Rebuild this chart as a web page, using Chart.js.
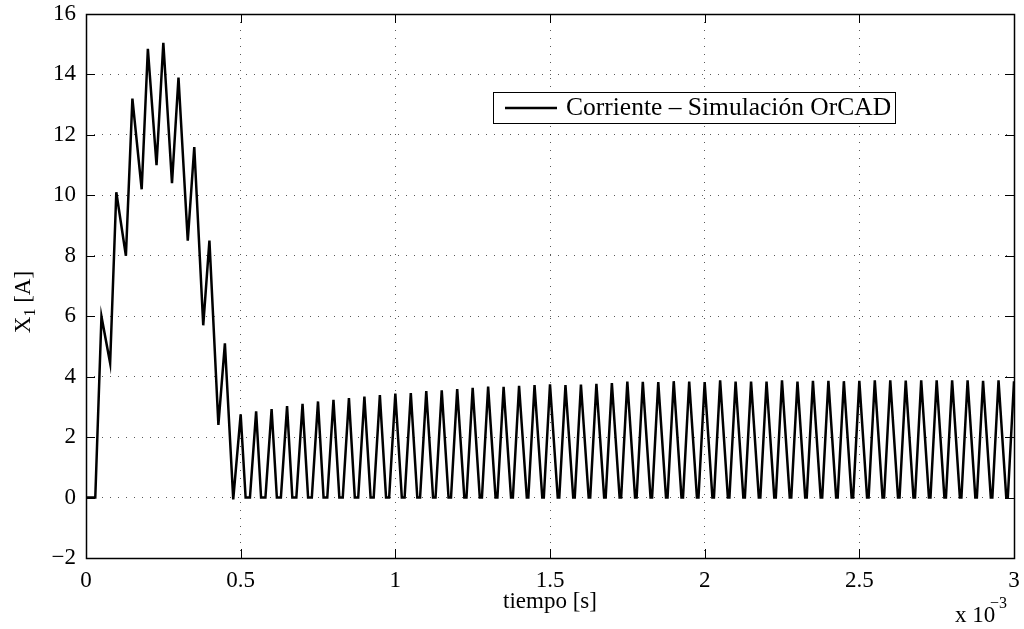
<!DOCTYPE html>
<html>
<head>
<meta charset="utf-8">
<script src="https://cdn.jsdelivr.net/npm/chart.js@4.4.1/dist/chart.umd.min.js"></script>
<style>
  html, body { margin: 0; padding: 0; background: #fff; }
  #wrap { width: 1024px; height: 629px; }
</style>
</head>
<body>
<div id="wrap"><canvas id="chart" width="1024" height="629"></canvas></div>
<script>
// time in ms (axis shows x 10^-3 s), current in A
const transientT = [0, 0.030, 0.050, 0.078, 0.098, 0.129, 0.150, 0.180, 0.200, 0.228,
                    0.250, 0.278, 0.299, 0.329, 0.350, 0.379, 0.399, 0.428, 0.449, 0.476];
const transientI = [0, 0, 5.99, 4.45, 10.1, 8.0, 13.2, 10.2, 14.85, 11.0,
                    15.05, 10.4, 13.9, 8.5, 11.6, 5.7, 8.5, 2.4, 5.1, -0.06];

// ripple peaks once the current has settled
const peakT = [0.50, 0.55, 0.60, 0.65, 0.70, 0.75, 0.80, 0.85, 0.90, 0.95,
               1.00, 1.05, 1.10, 1.15, 1.20, 1.25, 1.30, 1.35, 1.40, 1.45,
               1.50, 1.55, 1.60, 1.65, 1.70, 1.75, 1.80, 1.85, 1.90, 1.95,
               2.00, 2.05, 2.10, 2.15, 2.20, 2.25, 2.30, 2.35, 2.40, 2.45,
               2.50, 2.55, 2.60, 2.65, 2.70, 2.75, 2.80, 2.85, 2.90, 2.95, 3.00];
const peakI = [2.75, 2.85, 2.93, 3.03, 3.10, 3.18, 3.23, 3.29, 3.34, 3.39,
               3.44, 3.46, 3.52, 3.55, 3.59, 3.63, 3.67, 3.66, 3.70, 3.72,
               3.75, 3.72, 3.74, 3.76, 3.79, 3.84, 3.83, 3.82, 3.85, 3.84,
               3.82, 3.88, 3.84, 3.84, 3.84, 3.88, 3.84, 3.86, 3.86, 3.85,
               3.86, 3.88, 3.88, 3.87, 3.88, 3.88, 3.88, 3.88, 3.86, 3.88, 3.85];

// current sits at zero between these times after each peak
const zeroFrom = [0.516, 0.566, 0.617, 0.667, 0.718, 0.768, 0.819, 0.869, 0.920, 0.970,
                  1.021, 1.071, 1.122, 1.172, 1.223, 1.273, 1.324, 1.374, 1.425, 1.475,
                  1.525, 1.575, 1.625, 1.675, 1.725, 1.775, 1.825, 1.875, 1.925, 1.975,
                  2.025, 2.075, 2.125, 2.175, 2.225, 2.275, 2.325, 2.375, 2.425, 2.475,
                  2.525, 2.575, 2.625, 2.675, 2.725, 2.775, 2.825, 2.875, 2.925, 2.975];
const zeroTo = [0.530, 0.580, 0.630, 0.680, 0.730, 0.780, 0.830, 0.880, 0.930, 0.980,
                1.030, 1.080, 1.130, 1.180, 1.230, 1.280, 1.330, 1.380, 1.430, 1.480,
                1.530, 1.580, 1.630, 1.680, 1.730, 1.780, 1.830, 1.880, 1.930, 1.980,
                2.030, 2.080, 2.130, 2.180, 2.230, 2.280, 2.330, 2.380, 2.430, 2.480,
                2.530, 2.580, 2.630, 2.680, 2.730, 2.780, 2.830, 2.880, 2.930, 2.980];

const xTicks = [0, 0.5, 1, 1.5, 2, 2.5, 3];
const yTicks = [-2, 0, 2, 4, 6, 8, 10, 12, 14, 16];

const seriesLabel = 'Corriente \u2013 Simulación OrCAD';
const FONT = '"Liberation Serif", "Times New Roman", serif';

function buildPoints() {
    const pts = transientT.map((t, i) => ({ x: t, y: transientI[i] }));
    peakT.forEach((t, k) => {
        pts.push({ x: t, y: peakI[k] });
        if (k < zeroFrom.length) {
            pts.push({ x: zeroFrom[k], y: 0 });
            pts.push({ x: zeroTo[k], y: 0 });
        }
    });
    return pts;
}

function fmt(v) {
    return v < 0 ? '\u2212' + Math.abs(v) : String(v);
}

// box, inward ticks, legend and extra labels drawn like the MATLAB figure
const matlabFrame = {
    id: 'matlabFrame',
    afterDraw(chart) {
        const ctx = chart.ctx;
        const a = chart.chartArea;
        const xs = chart.scales.x;
        const ys = chart.scales.y;
        ctx.save();
        ctx.strokeStyle = '#000';
        ctx.lineWidth = 1;

        // ticks pointing inward on all four sides
        ctx.beginPath();
        xTicks.forEach(v => {
            const px = Math.round(xs.getPixelForValue(v)) + 0.5;
            ctx.moveTo(px, a.bottom); ctx.lineTo(px, a.bottom - 9);
            ctx.moveTo(px, a.top); ctx.lineTo(px, a.top + 9);
        });
        yTicks.forEach(v => {
            const py = Math.round(ys.getPixelForValue(v)) + 0.5;
            ctx.moveTo(a.left, py); ctx.lineTo(a.left + 9, py);
            ctx.moveTo(a.right, py); ctx.lineTo(a.right - 9, py);
        });
        ctx.stroke();

        ctx.lineWidth = 1.5;
        ctx.strokeRect(Math.round(a.left) + 0.5, Math.round(a.top) + 0.5,
                       Math.round(a.right - a.left), Math.round(a.bottom - a.top));

        // legend
        ctx.fillStyle = '#fff';
        ctx.fillRect(493, 92, 402, 31);
        ctx.lineWidth = 1;
        ctx.strokeRect(493.5, 92.5, 402, 31);
        ctx.lineWidth = 2.5;
        ctx.beginPath();
        ctx.moveTo(505, 108); ctx.lineTo(557, 108);
        ctx.stroke();
        ctx.fillStyle = '#000';
        ctx.font = '25.5px ' + FONT;
        ctx.textBaseline = 'middle';
        ctx.textAlign = 'left';
        ctx.fillText(seriesLabel, 566, 108);

        // x axis title
        ctx.font = '23px ' + FONT;
        ctx.textAlign = 'center';
        ctx.textBaseline = 'alphabetic';
        ctx.fillText('tiempo [s]', (a.left + a.right) / 2, 608);

        // exponent label
        ctx.textAlign = 'left';
        ctx.fillText('x 10', 955, 622);
        ctx.font = '16px ' + FONT;
        ctx.fillText('\u22123', 990, 608);

        // y axis title with subscript
        ctx.translate(30, 302);
        ctx.rotate(-Math.PI / 2);
        ctx.font = '23px ' + FONT;
        const w1 = ctx.measureText('X').width;
        ctx.font = '16px ' + FONT;
        const w2 = ctx.measureText('1').width;
        ctx.font = '23px ' + FONT;
        const w3 = ctx.measureText(' [A]').width;
        let x0 = -(w1 + w2 + w3) / 2;
        ctx.fillText('X', x0, 0);
        ctx.font = '16px ' + FONT;
        ctx.fillText('1', x0 + w1, 5);
        ctx.font = '23px ' + FONT;
        ctx.fillText(' [A]', x0 + w1 + w2, 0);
        ctx.restore();
    }
};

const ctx = document.getElementById('chart').getContext('2d');
new Chart(ctx, {
    type: 'line',
    data: {
        datasets: [{
            label: seriesLabel,
            data: buildPoints(),
            borderColor: '#000',
            borderWidth: 2.5,
            pointRadius: 0,
            tension: 0,
            fill: false
        }]
    },
    options: {
        responsive: false,
        animation: false,
        layout: { padding: { top: 14, right: 10, left: 0, bottom: 0 } },
        plugins: {
            legend: { display: false },
            tooltip: { enabled: false }
        },
        scales: {
            x: {
                type: 'linear',
                min: 0,
                max: 3,
                afterBuildTicks: s => { s.ticks = xTicks.map(v => ({ value: v })); },
                afterFit: s => { s.height = 71; s.paddingLeft = 0; s.paddingRight = 0; },
                grid: { color: 'rgba(0,0,0,0.65)', lineWidth: 1, drawTicks: false },
                border: { display: false, dash: [1, 7] },
                ticks: {
                    padding: 9,
                    color: '#000',
                    font: { family: FONT, size: 23 },
                    maxRotation: 0,
                    callback: v => fmt(v)
                }
            },
            y: {
                type: 'linear',
                min: -2,
                max: 16,
                afterBuildTicks: s => { s.ticks = yTicks.map(v => ({ value: v })); },
                afterFit: s => { s.width = 86; s.paddingTop = 0; s.paddingBottom = 0; },
                grid: { color: 'rgba(0,0,0,0.65)', lineWidth: 1, drawTicks: false },
                border: { display: false, dash: [1, 7] },
                ticks: {
                    padding: 10,
                    color: '#000',
                    font: { family: FONT, size: 23 },
                    callback: v => fmt(v)
                }
            }
        }
    },
    plugins: [matlabFrame]
});
</script>
</body>
</html>
